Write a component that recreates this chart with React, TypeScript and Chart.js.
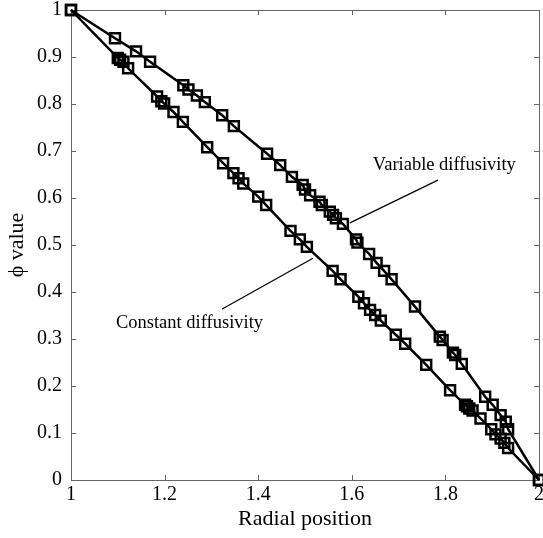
import React, { useEffect, useRef } from "react";
import { Chart, registerables } from "chart.js";

Chart.register(...registerables);

// Variable diffusivity series
const varX = [1, 1.094, 1.139, 1.169, 1.24, 1.251, 1.269, 1.286, 1.323, 1.348, 1.419, 1.447, 1.472, 1.495, 1.5, 1.511, 1.531, 1.536, 1.553, 1.56, 1.566, 1.581, 1.609, 1.612, 1.637, 1.653, 1.669, 1.685, 1.735, 1.788, 1.794, 1.816, 1.821, 1.835, 1.885, 1.901, 1.918, 1.929, 1.934, 2];
const varY = [1, 0.94, 0.912, 0.89, 0.84, 0.831, 0.818, 0.804, 0.776, 0.753, 0.694, 0.67, 0.645, 0.628, 0.618, 0.606, 0.592, 0.585, 0.571, 0.564, 0.557, 0.545, 0.512, 0.505, 0.481, 0.462, 0.445, 0.427, 0.369, 0.305, 0.298, 0.271, 0.266, 0.247, 0.177, 0.16, 0.138, 0.124, 0.108, 0];

// Constant diffusivity series
const conX = [1, 1.1, 1.105, 1.112, 1.122, 1.184, 1.193, 1.199, 1.219, 1.239, 1.291, 1.325, 1.347, 1.358, 1.368, 1.4, 1.417, 1.469, 1.489, 1.504, 1.559, 1.576, 1.614, 1.626, 1.639, 1.65, 1.662, 1.694, 1.714, 1.759, 1.81, 1.842, 1.846, 1.851, 1.858, 1.875, 1.898, 1.907, 1.918, 1.926, 1.934, 2];
const conY = [1, 0.898, 0.894, 0.89, 0.876, 0.816, 0.806, 0.801, 0.783, 0.762, 0.708, 0.674, 0.653, 0.642, 0.631, 0.603, 0.585, 0.53, 0.512, 0.496, 0.445, 0.427, 0.39, 0.376, 0.362, 0.351, 0.339, 0.309, 0.29, 0.245, 0.191, 0.16, 0.157, 0.152, 0.148, 0.131, 0.108, 0.097, 0.088, 0.079, 0.068, 0];

const xTickLabels = ["1", "1.2", "1.4", "1.6", "1.8", "2"];
const yTickLabels = ["0", "0.1", "0.2", "0.3", "0.4", "0.5", "0.6", "0.7", "0.8", "0.9", "1"];

// Annotations: text anchor [x, y], leader line [x1, y1, x2, y2]
const annVarText = "Variable diffusivity";
const annVarAnchor = [1.645, 0.67];
const annVarLine = [1.784, 0.638, 1.596, 0.547];
const annConText = "Constant diffusivity";
const annConAnchor = [1.096, 0.334];
const annConLine = [1.323, 0.364, 1.517, 0.472];

const FONT = "'Liberation Serif', 'Times New Roman', serif";

const framePlugin = {
  id: "frame",
  beforeDatasetsDraw(chart: any) {
    const { ctx, chartArea: a, scales } = chart;
    ctx.save();
    ctx.strokeStyle = "#666";
    ctx.lineWidth = 1;
    ctx.strokeRect(Math.round(a.left) + 0.5, Math.round(a.top) + 0.5, Math.round(a.right - a.left), Math.round(a.bottom - a.top));
    const L = 5;
    ctx.beginPath();
    scales.x.ticks.forEach((t: any) => {
      const px = Math.round(scales.x.getPixelForValue(t.value)) + 0.5;
      ctx.moveTo(px, a.bottom);
      ctx.lineTo(px, a.bottom - L);
      ctx.moveTo(px, a.top);
      ctx.lineTo(px, a.top + L);
    });
    scales.y.ticks.forEach((t: any) => {
      const py = Math.round(scales.y.getPixelForValue(t.value)) + 0.5;
      ctx.moveTo(a.left, py);
      ctx.lineTo(a.left + L, py);
      ctx.moveTo(a.right, py);
      ctx.lineTo(a.right - L, py);
    });
    ctx.stroke();
    ctx.restore();
  },
  afterDatasetsDraw(chart: any) {
    const { ctx, scales } = chart;
    const X = (v: number) => scales.x.getPixelForValue(v);
    const Y = (v: number) => scales.y.getPixelForValue(v);
    ctx.save();
    ctx.strokeStyle = "#000";
    ctx.lineWidth = 1.2;
    ctx.beginPath();
    ctx.moveTo(X(annVarLine[0]), Y(annVarLine[1]));
    ctx.lineTo(X(annVarLine[2]), Y(annVarLine[3]));
    ctx.moveTo(X(annConLine[0]), Y(annConLine[1]));
    ctx.lineTo(X(annConLine[2]), Y(annConLine[3]));
    ctx.stroke();
    ctx.fillStyle = "#000";
    ctx.font = `18.5px ${FONT}`;
    ctx.textAlign = "left";
    ctx.textBaseline = "middle";
    ctx.fillText(annVarText, X(annVarAnchor[0]), Y(annVarAnchor[1]));
    ctx.fillText(annConText, X(annConAnchor[0]), Y(annConAnchor[1]));
    ctx.restore();
  },
};

export default function App() {
  const ref = useRef<HTMLCanvasElement>(null);
  useEffect(() => {
    document.body.style.margin = "0";
    const mk = (xs: number[], ys: number[]) => xs.map((x, i) => ({ x, y: ys[i] }));
    const ds = (label: string, data: any) => ({
      label,
      data,
      borderColor: "#000",
      borderWidth: 2.5,
      pointStyle: "rect",
      pointRadius: 7,
      pointBorderWidth: 2.5,
      pointBorderColor: "#000",
      pointBackgroundColor: "rgba(0,0,0,0)",
      showLine: true,
      clip: false as any,
    });
    const chart = new Chart(ref.current!, {
      type: "scatter",
      data: {
        datasets: [ds("Variable diffusivity", mk(varX, varY)), ds("Constant diffusivity", mk(conX, conY))],
      },
      options: {
        responsive: false,
        animation: false,
        layout: { autoPadding: false, padding: { top: 10, right: 4, left: 0, bottom: 0 } },
        plugins: { legend: { display: false }, tooltip: { enabled: false } },
        scales: {
          x: {
            type: "linear",
            min: 1,
            max: 2,
            grid: { display: false, drawTicks: false },
            border: { display: false },
            ticks: {
              stepSize: 0.2,
              padding: 3,
              maxRotation: 0,
              color: "#000",
              font: { family: FONT, size: 20 },
              callback: (v: any, i: number) => xTickLabels[i] ?? "",
            },
            title: { display: true, text: "Radial position", color: "#000", font: { family: FONT, size: 22 }, padding: { top: 0, bottom: 6 } },
            afterFit: (axis: any) => {
              axis.height = 58;
              axis.paddingLeft = 0;
              axis.paddingRight = 0;
            },
          },
          y: {
            type: "linear",
            min: 0,
            max: 1,
            grid: { display: false, drawTicks: false },
            border: { display: false },
            ticks: {
              stepSize: 0.1,
              padding: 9,
              color: "#000",
              font: { family: FONT, size: 20 },
              callback: (v: any, i: number) => yTickLabels[i] ?? "",
            },
            title: { display: true, text: "ϕ value", color: "#000", font: { family: FONT, size: 22 }, padding: { top: 4, bottom: 0 } },
            afterFit: (axis: any) => {
              axis.width = 71;
              axis.paddingTop = 0;
              axis.paddingBottom = 0;
            },
          },
        },
      },
      plugins: [framePlugin],
    });
    return () => chart.destroy();
  }, []);
  return <canvas ref={ref} width={543} height={538} style={{ display: "block" }} />;
}
